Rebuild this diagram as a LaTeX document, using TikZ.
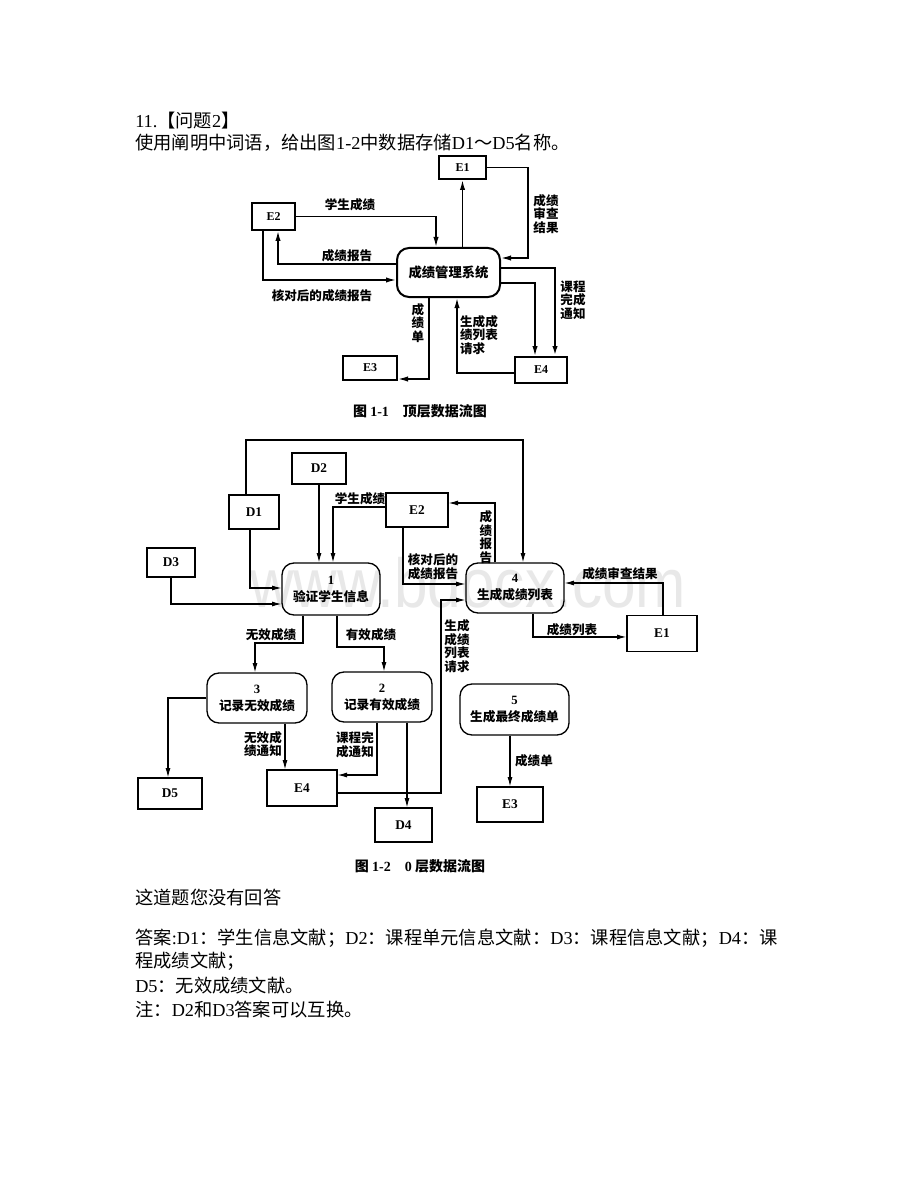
\documentclass[tikz,border=0pt]{standalone}
\usepackage{fontspec}
\setmainfont{Noto Sans CJK SC}
\newfontfamily\lat{Liberation Serif}
\newfontfamily\wmfont{Liberation Sans}
\usetikzlibrary{arrows.meta}
\begin{document}
\begin{tikzpicture}[x=0.75pt,y=-0.75pt,
  box/.style={draw, line width=1pt, inner sep=0pt, font=\lat\bfseries\fontsize{10}{12}\selectfont},
  tbox/.style={box, line width=1.5pt, font=\lat\bfseries\fontsize{9}{11}\selectfont},
  proc/.style={draw, rounded corners=9pt, line width=1pt, inner sep=0pt, align=center,
    font=\bfseries\fontsize{9.5}{12.75}\selectfont},
  lbl/.style={font=\bfseries\fontsize{9.4}{10.2}\selectfont, align=center, inner sep=0pt},
  arr/.style={-{Latex[length=7pt,width=3.8pt]}, line width=0.8pt},
  tarr/.style={-{Latex[length=7.5pt,width=4pt]}, line width=1.1pt},
  body/.style={anchor=west, inner sep=0pt, font=\fontsize{13.7}{16}\selectfont},
  capt/.style={inner sep=0pt, font=\bfseries\fontsize{10.5}{12}\selectfont}
]
\fill[white] (0,0) rectangle (920,1191);
\useasboundingbox (0,0) rectangle (920,1191);

% watermark
\node[text=black!9, font=\wmfont\fontsize{52}{52}\selectfont, anchor=base west, inner sep=0pt, xscale=0.87] (wm) at (250,607) {www.bdocx.com};

% header text
\node[body] (t1) at (135,121) {{\lat 11.}【问题{\lat 2}】};
\node[body] (t2) at (135,143) {使用阐明中词语，给出图{\lat 1-2}中数据存储{\lat D1}～{\lat D5}名称。};

% ===== top diagram =====
\node[tbox, minimum width=35.25pt, minimum height=17.25pt] (tE1) at (462.5,167.5) {E1};
\node[tbox, minimum width=32.25pt, minimum height=20.25pt] (tE2) at (273.5,216.5) {E2};
\node[draw, rounded corners=9pt, line width=1.5pt, inner sep=0pt, minimum width=77.25pt, minimum height=36.75pt,
  font=\bfseries\fontsize{10}{12}\selectfont] (tM) at (448.5,272.5) {成绩管理系统};
\node[tbox, minimum width=40.5pt, minimum height=18pt] (tE3) at (370,368) {E3};
\node[tbox, minimum width=39pt, minimum height=19.5pt] (tE4) at (541,370) {E4};

\draw[tarr] (tE2.east) -| ([xshift=-9.375pt]tM.north);
\draw[tarr] ([yshift=6.375pt]tM.west) -| ([xshift=3.375pt]tE2.south);
\draw[tarr] ([xshift=-7.875pt]tE2.south) |- ([yshift=-5.625pt]tM.west);
\draw[tarr] (tE1.south |- tM.north) -- (tE1.south);
\draw[tarr] (tE1.east) -| (528,258) -- ([yshift=10.875pt]tM.east);
\draw[tarr, line width=1.6pt] ([yshift=3.375pt]tM.east) -| ([xshift=10.5pt]tE4.north);
\draw[tarr] ([yshift=-7.875pt]tM.east) -| ([xshift=-4.5pt]tE4.north);
\draw[tarr] ([yshift=-2.25pt]tE4.west) -| ([xshift=6.375pt]tM.south);
\draw[tarr] ([xshift=-14.625pt]tM.south) |- ([yshift=-8.25pt]tE3.east);

\node[lbl] (l1) at (350,205) {学生成绩};
\node[lbl] (l2) at (347,256) {成绩报告};
\node[lbl] (l3) at (322,296) {核对后的成绩报告};
\node[lbl] (l4) at (546,214) {成绩\\审查\\结果};
\node[lbl] (l5) at (573,300) {课程\\完成\\通知};
\node[lbl] (l6) at (418,323) {成\\绩\\单};
\node[lbl, align=left] (l7) at (479,335) {生成成\\绩列表\\请求};

\node[capt] (c1) at (420,411) {图 {\lat 1-1}\quad 顶层数据流图};

% ===== bottom diagram =====
\node[box, minimum width=40.5pt, minimum height=23.25pt] (bD2) at (319,468.5) {D2};
\node[box, minimum width=37.5pt, minimum height=25.5pt] (bD1) at (254,512) {D1};
\node[box, minimum width=36pt, minimum height=21.75pt] (bD3) at (171,562.5) {D3};
\node[proc, minimum width=73.5pt, minimum height=39pt] (bP1) at (331,589) {{\lat 1}\\验证学生信息};
\node[box, minimum width=46.5pt, minimum height=25.5pt] (bE2) at (417,510) {E2};
\node[proc, minimum width=73.5pt, minimum height=37.5pt] (bP4) at (515,588) {{\lat 4}\\生成成绩列表};
\node[box, minimum width=52.5pt, minimum height=27pt] (bE1) at (662,633.5) {E1};
\node[proc, minimum width=75pt, minimum height=37.5pt] (bP3) at (257,698) {{\lat 3}\\记录无效成绩};
\node[proc, minimum width=75pt, minimum height=37.5pt] (bP2) at (382,697) {{\lat 2}\\记录有效成绩};
\node[proc, minimum width=81.75pt, minimum height=38.25pt] (bP5) at (514.5,709.5) {{\lat 5}\\生成最终成绩单};
\node[box, minimum width=48pt, minimum height=23.25pt] (bD5) at (170,793.5) {D5};
\node[box, minimum width=52.5pt, minimum height=27pt] (bE4) at (302,788) {E4};
\node[box, minimum width=42.75pt, minimum height=25.5pt] (bD4) at (403.5,825) {D4};
\node[box, minimum width=49.5pt, minimum height=26.25pt] (bE3) at (510,804.5) {E3};

\draw[arr] ([xshift=-6pt]bD1.north) |- (523,440) -- ([xshift=6pt]bP4.north);
\draw[arr] ([xshift=-3pt]bD1.south) |- ([yshift=0.75pt]bP1.west);
\draw[arr] (bD3.south) |- ([yshift=-11.25pt]bP1.west);
\draw[arr] (bD2.south) -- (bD2.south |- bP1.north);
\draw[arr] ([yshift=2.25pt]bE2.west) -| ([xshift=1.5pt]bP1.north);
\draw[arr] ([xshift=-15pt]bP4.north) |- ([yshift=5.25pt]bE2.east);
\draw[arr] ([xshift=-10.5pt]bE2.south) |- ([yshift=3pt]bP4.west);
\draw[arr] ([xshift=0.75pt]bE1.north) |- ([yshift=3.75pt]bP4.east);
\draw[arr] ([xshift=13.5pt]bP4.south) |- ([yshift=-2.6pt]bE1.west);
\draw[arr] ([yshift=-3.75pt]bE4.east) -| (441,600) -- ([yshift=-9pt]bP4.west);
\draw[arr] ([xshift=-21pt]bP1.south) |- (255,643) -- ([xshift=-1.5pt]bP3.north);
\draw[arr] ([xshift=4.5pt]bP1.south) |- (384,647) -- ([xshift=1.5pt]bP2.north);
\draw[arr] (bP3.west) -| ([xshift=-1.5pt]bD5.north);
\draw[arr] ([xshift=21pt]bP3.south) -- ([xshift=-12.75pt]bE4.north);
\draw[arr] ([xshift=-3.75pt]bP2.south) |- ([yshift=9.75pt]bE4.east);
\draw[arr] ([xshift=18.75pt]bP2.south) -- ([xshift=2.625pt]bD4.north);
\draw[arr] ([xshift=-3.375pt]bP5.south) -- (bE3.north);

\node[lbl] (m1) at (360,499) {学生成绩};
\node[lbl] (m2) at (486,537) {成\\绩\\报\\告};
\node[lbl, align=left] (m3) at (433,567) {核对后的\\成绩报告};
\node[lbl] (m4) at (620,574) {成绩审查结果};
\node[lbl] (m5) at (572,630) {成绩列表};
\node[lbl] (m6) at (457,646) {生成\\成绩\\列表\\请求};
\node[lbl] (m7) at (271,635) {无效成绩};
\node[lbl] (m8) at (371,635) {有效成绩};
\node[lbl] (m9) at (263,744) {无效成\\绩通知};
\node[lbl] (m10) at (355,745) {课程完\\成通知};
\node[lbl] (m11) at (534,761) {成绩单};

\node[capt] (c2) at (420,866) {图 {\lat 1-2}\quad {\lat 0} 层数据流图};

% answer text
\node[body] (a0) at (135,897) {这道题您没有回答};
\node[body] (a1) at (135,938) {答案{\lat :D1}：学生信息文献；{\lat D2}：课程单元信息文献：{\lat D3}：课程信息文献；{\lat D4}：课};
\node[body] (a2) at (135,961) {程成绩文献；};
\node[body] (a3) at (135,986) {{\lat D5}：无效成绩文献。};
\node[body] (a4) at (135,1010) {注：{\lat D2}和{\lat D3}答案可以互换。};
\end{tikzpicture}
\end{document}
